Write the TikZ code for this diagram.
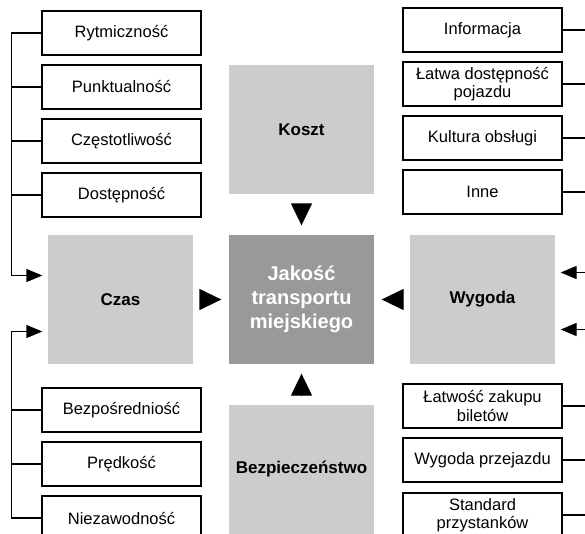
\documentclass[tikz,border=0pt]{standalone}
\usepackage{fontspec}
\setmainfont{Liberation Sans}
\usetikzlibrary{arrows.meta}
\definecolor{szary}{HTML}{CCCCCC}
\definecolor{ciemny}{HTML}{999999}

\begin{document}
\begin{tikzpicture}[x=1pt,y=-1pt,line width=1.3pt,
	>={Triangle[length=16pt,width=13pt]},
	pole/.style={draw,minimum width=159pt,minimum height=44pt,inner sep=1pt,align=center,font=\fontsize{16.5}{18.5}\selectfont},
	grupa/.style={fill=szary,minimum width=145pt,minimum height=129pt,align=center,font=\fontsize{17}{20}\selectfont\bfseries},
	klin/.style={-{Triangle[length=22pt,width=21pt]}}]
	\useasboundingbox (0,0) rectangle (585,533);
	\clip (0,0) rectangle (585,533);

	\node[grupa] (koszt) at (301.5,129.5) {Koszt};
	\node[grupa] (czas) at (120.5,299.5) {Czas};
	\node[grupa] (wygoda) at (482.5,299.5) {Wygoda};
	\node[grupa] (bezp) at (301.5,469.5) {Bezpieczeństwo};
	\node[grupa,fill=ciemny,text=white,font=\fontsize{20}{24}\selectfont\bfseries] (jakosc) at (301.5,299.5) {Jakość\\transportu\\miejskiego};

	\draw[klin,shorten <=10pt,shorten >=9pt] (koszt) -- (jakosc);
	\draw[klin,shorten <=9pt,shorten >=9pt] (bezp) -- (jakosc);
	\draw[klin,shorten <=7pt,shorten >=7pt] (czas) -- (jakosc);
	\draw[klin,shorten <=7pt,shorten >=7pt] (wygoda) -- (jakosc);

	% lewa strona
	\node[pole] (rytm) at (121.5,33) {Rytmiczność};
	\node[pole] (punkt) at (121.5,87) {Punktualność};
	\node[pole] (czest) at (121.5,141) {Częstotliwość};
	\node[pole] (dost) at (121.5,195) {Dostępność};
	\node[pole] (bezpo) at (121.5,410) {Bezpośredniość};
	\node[pole] (predk) at (121.5,464) {Prędkość};
	\node[pole] (niez) at (121.5,518) {Niezawodność};

	\draw[->] (rytm.west) -- +(-30,0) |- ([xshift=-5pt,yshift=24pt]czas.west);
	\draw[->] (niez.west) -- +(-30,0) |- ([xshift=-5pt,yshift=-32pt]czas.west);
	\foreach \n in {punkt,czest,dost,bezpo,predk}
		\draw (\n.west) -- +(-30,0);

	% prawa strona
	\node[pole] (info) at (482.5,30) {Informacja};
	\node[pole] (latwa) at (482.5,84) {Łatwa dostępność\\pojazdu};
	\node[pole] (kult) at (482.5,138) {Kultura obsługi};
	\node[pole] (inne) at (482.5,192) {Inne};
	\node[pole] (zakup) at (482.5,406) {Łatwość zakupu\\biletów};
	\node[pole] (przejazd) at (482.5,460) {Wygoda przejazdu};
	\node[pole] (przyst) at (482.5,515) {Standard\\przystanków};

	\draw[<-] ([xshift=5pt,yshift=27pt]wygoda.east) -- +(40,0);
	\draw[<-] ([xshift=5pt,yshift=-30pt]wygoda.east) -- +(40,0);
	\foreach \n in {info,latwa,kult,inne,zakup,przejazd,przyst}
		\draw (\n.east) -- +(30,0);
\end{tikzpicture}
\end{document}
